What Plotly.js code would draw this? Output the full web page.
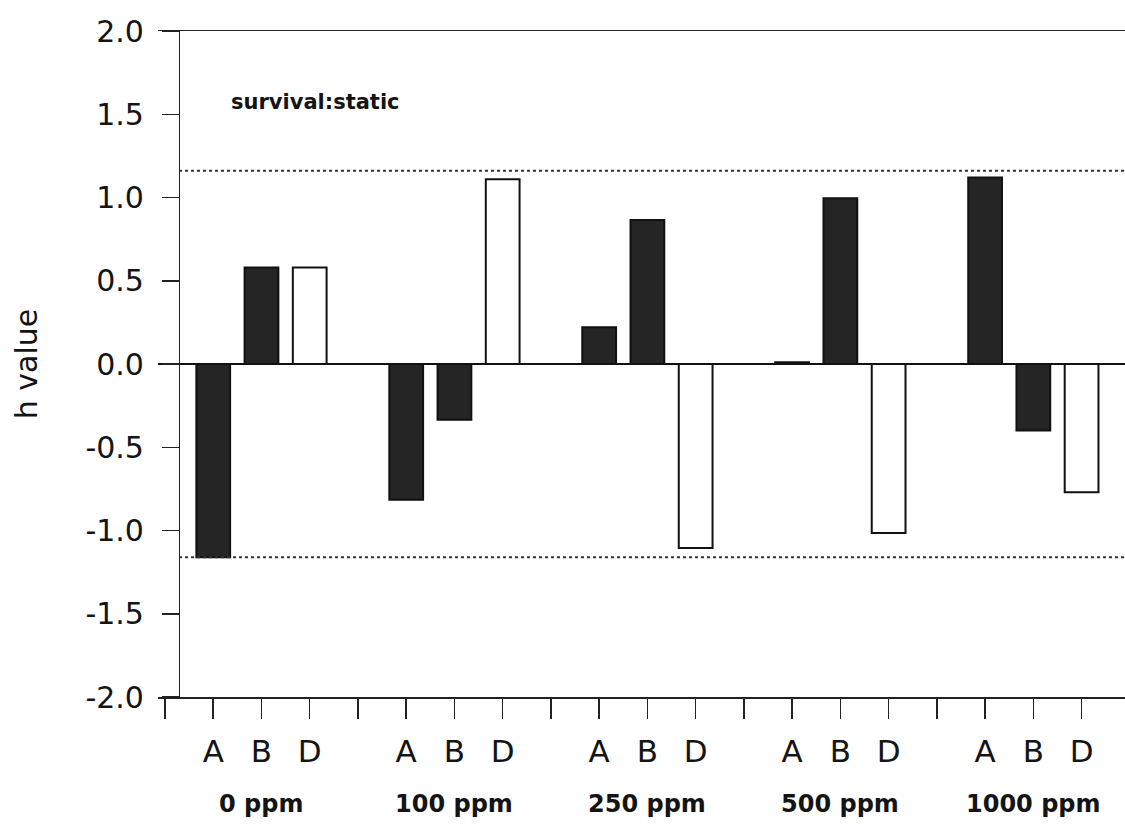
<!DOCTYPE html>
<html>
<head>
<meta charset="utf-8">
<script src="https://cdn.plot.ly/plotly-3.0.1.min.js"></script>
<style>
  html, body { margin: 0; padding: 0; background: #ffffff; }
  #chart { width: 1125px; height: 827px; }
</style>
</head>
<body>
<div id="chart"></div>
<script>
// Concentration groups and the three lines measured in each
const groups = ['0 ppm', '100 ppm', '250 ppm', '500 ppm', '1000 ppm'];
const lines = ['A', 'B', 'D'];

// h values per line, one entry per concentration group
const valuesA = [-1.16, -0.815, 0.22, 0.01, 1.12];
const valuesB = [0.58, -0.335, 0.865, 0.995, -0.40];
const valuesD = [0.58, 1.11, -1.105, -1.015, -0.77];

// Critical h thresholds (dotted reference lines)
const thresholds = [1.16, -1.16];

// Y tick labels
const yTickVals = [-2, -1.5, -1, -0.5, 0, 0.5, 1, 1.5, 2];
const yTickText = ['-2.0', '-1.5', '-1.0', '-0.5', '0.0', '0.5', '1.0', '1.5', '2.0'];

const FONT = 'DejaVu Sans, Verdana, sans-serif';
const DARK = '#252525';
const INK = '#141414';

// Each group occupies four slots on the x axis: three bars plus a gap
const slotsPerGroup = lines.length + 1;
const slotOf = (g, k) => 1 + slotsPerGroup * g + k;

const seriesValues = [valuesA, valuesB, valuesD];
const fills = [DARK, DARK, '#ffffff'];

const traces = lines.map((name, k) => ({
  type: 'bar',
  name: name,
  x: groups.map((_, g) => slotOf(g, k)),
  y: seriesValues[k],
  width: 0.7,
  marker: { color: fills[k], line: { color: '#111111', width: 2 } },
  hoverinfo: 'skip'
}));

// Tick marks on every slot; letters under the bars, blank in the gaps
const nSlots = slotsPerGroup * groups.length + 1;
const xTickVals = [];
const xTickText = [];
for (let s = 0; s < nSlots; s++) {
  xTickVals.push(s);
  const k = (s - 1) % slotsPerGroup;
  xTickText.push(s >= 1 && k < lines.length ? lines[k] : '');
}

const annotations = groups.map((label, g) => ({
  text: '<b>' + label + '</b>',
  x: slotOf(g, 1),
  xref: 'x',
  y: -0.16,
  yref: 'paper',
  xanchor: 'center',
  yanchor: 'middle',
  showarrow: false,
  font: { family: FONT, size: 24, color: INK }
}));

annotations.push({
  text: '<b>survival:static</b>',
  x: 1.33,
  xref: 'x',
  y: 1.575,
  yref: 'y',
  xanchor: 'left',
  yanchor: 'middle',
  showarrow: false,
  font: { family: FONT, size: 21, color: INK }
});

const shapes = thresholds.map(t => ({
  type: 'line',
  xref: 'x',
  yref: 'y',
  x0: 0.29,
  x1: nSlots,
  y0: t,
  y1: t,
  line: { color: '#333333', width: 2, dash: 'dot' }
}));

const layout = {
  width: 1125,
  height: 827,
  autosize: false,
  margin: { l: 158, r: 0, t: 31, b: 130, pad: 0 },
  paper_bgcolor: '#ffffff',
  plot_bgcolor: '#ffffff',
  showlegend: false,
  bargap: 0,
  barmode: 'overlay',
  font: { family: FONT, color: INK },
  xaxis: {
    range: [-0.145, 19.9],
    tickvals: xTickVals,
    ticktext: xTickText,
    ticks: 'outside',
    ticklen: 20,
    tickwidth: 1.5,
    tickcolor: '#222222',
    ticklabelstandoff: 6,
    tickfont: { family: FONT, size: 31, color: INK },
    showline: true,
    linecolor: '#222222',
    linewidth: 1.5,
    mirror: true,
    showgrid: false,
    zeroline: false,
    fixedrange: true
  },
  yaxis: {
    range: [-2, 2],
    anchor: 'free',
    position: 0.0217,
    tickvals: yTickVals,
    ticktext: yTickText,
    ticks: 'outside',
    ticklen: 17,
    tickwidth: 1.5,
    tickcolor: '#222222',
    ticklabelstandoff: 12,
    tickfont: { family: FONT, size: 30, color: INK },
    showline: true,
    linecolor: '#222222',
    linewidth: 1.5,
    showgrid: false,
    zeroline: true,
    zerolinecolor: '#111111',
    zerolinewidth: 1.5,
    title: { text: 'h value', font: { family: FONT, size: 30, color: INK }, standoff: 37 },
    fixedrange: true
  },
  annotations: annotations,
  shapes: shapes
};

Plotly.newPlot('chart', traces, layout, { displayModeBar: false, staticPlot: true });
</script>
</body>
</html>
